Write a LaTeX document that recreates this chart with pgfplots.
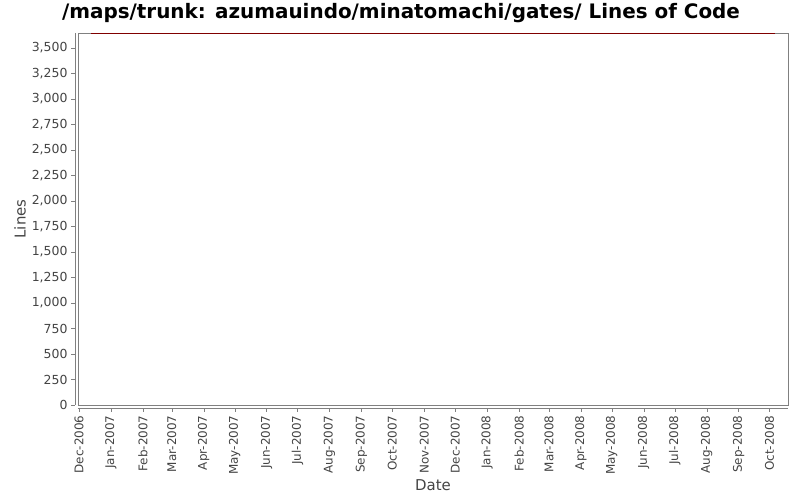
\documentclass[border=0pt]{standalone}
\usepackage{fontspec}
\setmainfont{DejaVu Sans}
\usepackage{pgfplots}
\pgfplotsset{compat=1.18}
\begin{document}
\begin{tikzpicture}[x=1bp,y=1bp]
\definecolor{axisgray}{RGB}{128,128,128}
\definecolor{ticktext}{RGB}{68,68,68}
\definecolor{locred}{RGB}{128,0,0}
\useasboundingbox (0,0) rectangle (800,500);
\node[font=\bfseries\fontsize{20}{24}\selectfont] at (401,487) {/maps/trunk: azumauindo/minatomachi/gates/ Lines of Code};
\begin{axis}[
scale only axis, width=710bp, height=372bp,
at={(78bp,95bp)}, anchor=south west,
xmin=-1, xmax=688, ymin=0, ymax=3647,
axis x line*=bottom, axis y line*=left,
axis x line shift=3bp, axis y line shift=3bp,
axis line style={-, axisgray},
tick align=outside, tick pos=left,
major tick length=4bp,
tick style={axisgray},
ytick={0,250,...,3500},
/pgf/number format/assume math mode=true,
/pgf/number format/1000 sep={,},
yticklabel style={font=\fontsize{12.5}{14}\selectfont, text=ticktext},
xtick={0,31,62,90,121,151,182,212,243,274,304,335,365,396,427,456,487,517,548,578,609,640,670},
xticklabels={Dec-2006,Jan-2007,Feb-2007,Mar-2007,Apr-2007,May-2007,Jun-2007,Jul-2007,Aug-2007,Sep-2007,Oct-2007,Nov-2007,Dec-2007,Jan-2008,Feb-2008,Mar-2008,Apr-2008,May-2008,Jun-2008,Jul-2008,Aug-2008,Sep-2008,Oct-2008},
xticklabel style={font=\fontsize{12}{14}\selectfont, text=ticktext, rotate=90, anchor=east},
xlabel={Date}, ylabel={Lines},
xlabel style={font=\fontsize{15}{18}\selectfont, text=ticktext, at={(axis description cs:0.5,-0.215)}, anchor=center},
ylabel style={font=\fontsize{15}{18}\selectfont, text=ticktext, at={(axis description cs:-0.0817,0.5)}, anchor=center, rotate=0},
clip=false,
]
\draw[axisgray] (rel axis cs:0,0) rectangle (rel axis cs:1,1);
\addplot[locred, line width=1.2bp] coordinates {(12,3645) (675,3645)};
\end{axis}
\end{tikzpicture}
\end{document}
